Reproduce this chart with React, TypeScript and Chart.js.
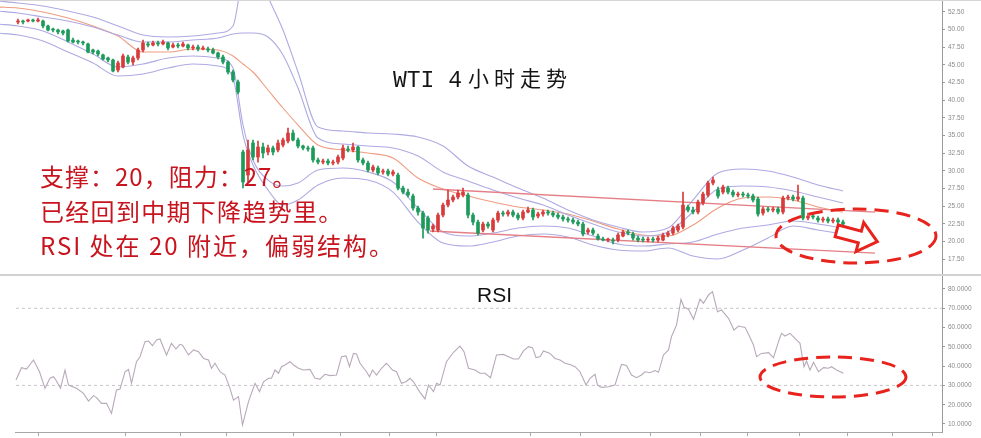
import React, { useEffect, useRef } from "react";
import { Chart, registerables } from "chart.js";

Chart.register(...registerables);

// ---------- Candles (4h WTI) ----------
const OPEN = [
  51.08, 51.22, 51.22, 51.37, 51.22, 51.22, 50.52, 50.09, 49.95, 49.81,
  49.95, 48.53, 48.39, 48.25, 47.97, 47.12, 46.97, 46.41, 45.98, 45.7,
  44.28, 44.71, 46.12, 45.41, 45.98, 47.12, 47.97, 47.82, 48.11, 47.97,
  48.11, 47.54, 47.82, 47.68, 47.82, 47.4, 47.54, 47.26, 47.26, 47.12,
  46.69, 46.12, 45.41, 44.0, 42.58, 32.66, 29.4, 33.94, 31.95, 33.37,
  32.66, 33.23, 32.95, 33.65, 34.22, 35.35, 34.36, 33.51, 33.23, 33.23,
  31.53, 31.24, 31.39, 31.1, 31.24, 31.81, 33.09, 32.95, 33.37, 31.53,
  31.1, 30.11, 30.39, 29.83, 29.97, 29.54, 29.4, 27.56, 26.99, 26.43,
  24.73, 24.02, 23.31, 21.75, 21.61, 23.73, 25.15, 25.86, 26.29, 26.57,
  26.57, 23.73, 22.74, 21.61, 22.46, 21.61, 23.03, 24.02, 23.88, 24.16,
  23.73, 23.31, 24.16, 24.44, 23.59, 23.88, 24.16, 24.02, 23.73, 23.45,
  23.17, 23.03, 22.74, 22.46, 21.33, 21.61, 20.76, 20.33, 20.19, 20.19,
  20.19, 20.76, 21.33, 21.04, 20.47, 20.33, 20.19, 20.33, 20.19, 20.19,
  20.9, 21.18, 21.61, 22.03, 24.87, 24.44, 24.16, 25.44, 26.57, 28.27,
  27.28, 26.99, 27.56, 26.99, 26.57, 26.71, 26.57, 26.43, 26.0, 24.02,
  24.59, 24.44, 24.59, 24.16, 26.14, 26.29, 26.0, 26.14, 23.31, 23.59,
  23.31, 23.03, 23.17, 22.88, 23.03, 22.74,
];
const HIGH = [
  51.51, 51.37, 51.51, 51.51, 51.65, 51.37, 50.66, 50.23, 50.09, 49.95,
  50.09, 48.82, 48.53, 48.39, 48.11, 47.26, 47.12, 46.55, 46.12, 45.84,
  45.56, 46.55, 46.41, 46.27, 47.4, 48.53, 48.25, 48.39, 48.39, 48.53,
  48.25, 48.11, 48.11, 48.25, 47.97, 47.82, 47.82, 47.68, 47.54, 47.4,
  46.83, 46.41, 45.56, 44.28, 42.86, 32.95, 34.36, 34.36, 34.22, 33.94,
  33.65, 33.51, 34.36, 34.65, 36.06, 35.78, 34.65, 33.65, 33.51, 33.51,
  31.81, 31.67, 31.67, 31.53, 32.24, 33.65, 33.51, 33.94, 33.51, 31.81,
  31.39, 30.82, 30.68, 30.25, 30.25, 30.11, 29.69, 27.85, 27.42, 26.71,
  25.01, 24.3, 23.59, 22.46, 24.02, 25.44, 27.28, 26.57, 27.28, 27.56,
  26.85, 24.02, 23.03, 22.74, 22.74, 23.31, 24.3, 24.3, 24.44, 24.44,
  24.02, 24.44, 24.87, 24.73, 24.16, 24.44, 24.44, 24.3, 24.02, 23.73,
  23.45, 23.31, 23.03, 22.74, 21.89, 21.89, 21.04, 20.62, 20.47, 20.47,
  21.18, 21.61, 21.61, 21.33, 20.76, 20.62, 20.62, 20.62, 20.76, 21.18,
  21.47, 22.18, 22.46, 26.99, 25.15, 24.87, 25.86, 26.99, 28.55, 29.12,
  27.7, 27.99, 27.85, 27.28, 26.99, 26.99, 26.85, 26.71, 26.29, 24.87,
  24.87, 24.87, 24.87, 26.43, 26.57, 26.57, 27.99, 26.43, 24.02, 23.88,
  23.59, 23.45, 23.45, 23.31, 23.31, 23.03,
];
const LOW = [
  50.8, 50.8, 51.08, 51.08, 51.08, 50.23, 49.81, 49.67, 49.38, 49.24,
  48.25, 48.11, 47.97, 47.82, 46.69, 46.55, 46.27, 45.7, 45.41, 44.0,
  44.0, 44.56, 45.13, 44.99, 45.7, 46.83, 47.54, 47.68, 47.68, 47.82,
  47.12, 47.4, 47.4, 47.54, 47.12, 47.12, 46.97, 47.12, 46.83, 46.55,
  45.84, 45.13, 43.71, 42.58, 40.88, 27.56, 28.41, 31.53, 31.24, 31.81,
  32.24, 32.24, 32.66, 33.37, 33.94, 34.22, 33.23, 32.95, 32.8, 31.24,
  30.96, 30.96, 30.82, 30.82, 30.96, 31.53, 32.66, 32.66, 31.24, 30.82,
  29.83, 29.83, 29.4, 29.54, 29.26, 29.26, 27.28, 26.71, 26.29, 24.44,
  23.73, 20.47, 21.18, 21.33, 21.33, 23.45, 24.87, 25.58, 26.0, 26.29,
  23.31, 22.32, 20.9, 21.33, 21.89, 21.33, 22.74, 23.59, 23.59, 23.45,
  23.03, 23.03, 24.02, 23.03, 23.31, 23.59, 23.73, 23.45, 23.17, 22.88,
  22.74, 22.46, 22.18, 20.76, 21.04, 20.9, 20.19, 20.05, 19.91, 19.63,
  19.91, 20.62, 20.9, 20.19, 19.91, 19.91, 19.91, 19.91, 19.91, 20.05,
  20.62, 20.9, 21.33, 21.75, 24.16, 23.88, 23.88, 25.15, 26.29, 27.99,
  26.14, 26.71, 26.71, 26.29, 26.29, 26.29, 26.14, 25.58, 23.59, 23.73,
  24.16, 24.16, 23.88, 23.88, 25.86, 25.72, 25.72, 23.03, 23.03, 23.17,
  22.74, 22.74, 22.6, 22.6, 22.46, 22.18,
];
const CLOSE = [
  51.22, 51.08, 51.37, 51.22, 51.37, 50.52, 49.95, 49.95, 49.67, 49.52,
  48.39, 48.25, 48.25, 48.11, 46.83, 46.83, 46.55, 45.84, 45.7, 44.14,
  45.27, 46.27, 45.41, 45.98, 47.12, 48.11, 47.82, 48.11, 47.97, 48.25,
  47.4, 47.82, 47.68, 47.97, 47.4, 47.54, 47.26, 47.4, 47.12, 46.69,
  46.12, 45.41, 44.0, 42.86, 41.16, 28.41, 32.95, 31.95, 33.37, 32.52,
  33.23, 32.66, 33.94, 34.36, 35.35, 34.36, 33.51, 33.23, 33.09, 31.53,
  31.24, 31.39, 31.1, 31.24, 31.95, 33.23, 32.95, 33.37, 31.53, 31.1,
  30.11, 30.54, 29.69, 29.97, 29.54, 29.83, 27.56, 26.99, 26.57, 24.73,
  24.16, 21.89, 21.61, 22.18, 23.73, 25.15, 25.86, 26.29, 26.85, 26.99,
  23.73, 22.74, 21.18, 22.46, 22.18, 23.03, 24.02, 23.88, 24.16, 23.73,
  23.31, 24.16, 24.44, 23.45, 23.88, 24.16, 24.02, 23.73, 23.45, 23.17,
  23.03, 22.74, 22.46, 21.04, 21.61, 21.18, 20.33, 20.19, 20.33, 20.05,
  20.9, 21.33, 21.18, 20.47, 20.19, 20.19, 20.33, 20.19, 20.47, 20.9,
  21.18, 21.89, 22.18, 25.15, 24.44, 24.16, 25.58, 26.71, 28.27, 28.69,
  26.43, 27.7, 26.99, 26.57, 26.71, 26.57, 26.43, 25.86, 23.88, 24.59,
  24.44, 24.59, 24.16, 26.14, 26.29, 26.0, 26.29, 23.31, 23.59, 23.45,
  23.03, 23.17, 22.88, 23.03, 22.74, 22.46,
];

// ---------- Bollinger-style bands (sampled at candle positions) ----------
const BAND_IDX = [-4, 0, 5, 10, 15, 20, 25, 30, 35, 40, 43, 45, 47, 50, 53, 56, 60, 65, 70, 75, 80, 85, 90, 95, 100, 105, 110, 115, 120, 125, 130, 135, 140, 145, 150, 155, 160, 165];
const BB_UP2 = [54.06, 53.78, 53.35, 52.64, 51.79, 50.52, 49.24, 48.96, 49.1, 49.52, 50.52, 57.74, 59.59, 54.63, 49.95, 44.0, 36.2, 35.64, 35.35, 35.21, 34.79, 33.51, 30.68, 29.12, 27.56, 26.14, 24.44, 23.03, 22.03, 21.33, 21.89, 25.86, 29.69, 30.25, 29.97, 29.12, 27.99, 27.14];
const BB_UP1 = [52.64, 52.36, 51.79, 51.22, 50.37, 49.24, 48.25, 48.25, 48.53, 48.82, 49.38, 49.52, 49.52, 48.96, 46.41, 41.73, 34.65, 33.8, 33.51, 33.23, 32.09, 29.83, 28.55, 27.28, 26.14, 25.15, 23.73, 22.46, 21.33, 20.76, 21.33, 24.16, 27.42, 27.84, 27.7, 27.14, 26.29, 25.44];
const BB_MID = [53.21, 53.07, 52.5, 51.65, 50.52, 49.1, 46.83, 46.83, 47.26, 47.12, 46.27, 45.13, 44.0, 41.45, 38.9, 36.49, 33.65, 32.95, 32.52, 31.81, 28.98, 27.42, 26.43, 25.58, 24.87, 24.44, 23.88, 22.88, 21.75, 20.9, 20.76, 22.32, 24.73, 26.14, 26.29, 25.86, 24.87, 24.16];
const BB_LOW1 = [50.8, 50.52, 49.81, 48.25, 46.55, 44.71, 45.13, 45.98, 46.27, 45.98, 44.56, 36.49, 31.53, 28.69, 27.84, 28.27, 30.11, 30.39, 29.83, 28.41, 24.73, 21.33, 20.76, 21.18, 21.89, 22.18, 21.89, 20.76, 19.63, 19.34, 19.63, 19.91, 21.04, 21.89, 22.32, 22.88, 22.46, 21.89];
const BB_LOW2 = [49.52, 49.24, 48.39, 46.83, 45.27, 43.43, 43.71, 44.56, 45.13, 44.85, 43.15, 35.07, 30.82, 27.28, 25.15, 25.86, 27.99, 28.98, 28.69, 26.99, 22.74, 19.77, 19.34, 19.91, 20.76, 21.04, 20.62, 19.48, 18.77, 18.63, 19.06, 17.92, 17.5, 18.77, 20.48, 22.18, 21.61, 21.04];

// ---------- Channel trend lines ----------
const TREND_HIGH_X = [83, 171.4];
const TREND_HIGH = [27.42, 24.16];
const TREND_LOW_X = [82.4, 171.4];
const TREND_LOW = [21.47, 18.35];

// ---------- RSI ----------
const RSI_POS = [
  -0.4, 0.7, 1.7, 3.1, 4.3, 5.4, 6.4, 7.1, 7.7, 8.5,
  9.4, 10.1, 11.7, 13.1, 14.1, 15.1, 15.7, 16.7, 17.7, 18.7,
  19.7, 20.4, 21.4, 22.1, 22.7, 23.7, 24.4, 25.4, 26.1, 26.9,
  27.7, 28.4, 29.7, 30.7, 31.6, 32.4, 32.9, 34.1, 35.1, 36.1,
  37.1, 38.1, 38.7, 39.4, 40.4, 41.4, 42.4, 43.1, 44.1, 44.9,
  46.1, 47.4, 48.3, 49.1, 50.1, 50.7, 51.4, 52.1, 52.7, 53.4,
  54.4, 55.1, 56.1, 57.1, 58.4, 59.4, 60.4, 61.4, 62.4, 63.7,
  64.7, 65.6, 66.3, 67.1, 67.7, 68.4, 69.7, 70.3, 70.9, 71.7,
  72.7, 73.7, 74.9, 75.7, 76.7, 77.6, 78.4, 79.1, 80.3, 81.4,
  82.1, 83.1, 83.7, 84.4, 85.7, 87.1, 88.4, 89.2, 90.1, 91.4,
  92.4, 93.4, 94.5, 95.7, 97.1, 98.1, 99.1, 100.1, 101.1, 102.1,
  102.9, 103.6, 104.4, 105.1, 106.4, 107.4, 108.4, 109.4, 110.4, 111.4,
  112.4, 113.6, 114.4, 115.4, 115.9, 116.7, 118.1, 119.4, 120.7, 121.7,
  122.7, 123.7, 124.7, 125.4, 126.4, 127.4, 128.1, 129.1, 130.1, 130.7,
  131.7, 132.6, 133.2, 134.1, 135.1, 136.4, 137.1, 138.1, 138.9, 139.9,
  140.7, 142.1, 143.2, 144.1, 145.4, 146.1, 147.1, 147.7, 148.7, 150.1,
  151.1, 152.1, 152.7, 153.4, 154.4, 155.4, 156.4, 157.2, 157.7, 158.4,
  159.1, 160.1, 161.1, 162.1, 162.7, 163.7, 165.1,
];
const RSI = [
  32.8, 39.2, 38.5, 43.2, 37.1, 28.5, 33.7, 34.5, 32.3, 28.5,
  38.0, 30.2, 28.5, 25.9, 21.9, 24.7, 23.7, 20.7, 20.7, 15.5,
  27.6, 28.1, 37.1, 38.3, 31.1, 42.3, 44.9, 52.7, 53.0, 50.6,
  53.6, 54.1, 45.8, 51.8, 48.9, 51.3, 50.9, 45.8, 48.4, 47.5,
  44.0, 43.2, 38.9, 41.5, 37.1, 35.4, 28.5, 22.4, 24.2, 9.5,
  21.6, 31.1, 26.8, 31.9, 33.7, 33.7, 38.0, 36.3, 39.7, 40.6,
  42.3, 40.6, 38.9, 38.0, 38.3, 33.7, 33.3, 35.8, 35.1, 35.4,
  44.9, 45.3, 39.7, 46.6, 46.3, 41.5, 37.1, 34.5, 38.0, 35.4,
  38.9, 41.5, 38.0, 37.1, 31.1, 31.9, 33.7, 31.9, 26.8, 23.0,
  30.2, 26.8, 31.1, 30.2, 42.3, 47.2, 50.4, 47.5, 38.9, 38.0,
  36.3, 36.3, 34.0, 45.8, 46.1, 44.9, 43.7, 43.7, 47.9, 50.1,
  49.6, 44.4, 44.9, 47.9, 46.6, 44.0, 43.2, 41.5, 40.9, 39.7,
  37.1, 30.2, 33.7, 35.8, 30.2, 29.0, 29.3, 30.2, 40.9, 40.3,
  35.4, 34.0, 35.4, 37.1, 36.6, 37.7, 36.8, 45.8, 48.4, 55.3,
  61.3, 74.6, 70.5, 69.5, 64.3, 74.8, 72.6, 76.9, 78.6, 68.2,
  69.1, 64.8, 58.7, 60.8, 60.1, 56.5, 51.0, 44.9, 46.6, 47.0,
  44.4, 52.7, 57.0, 55.6, 57.0, 54.4, 51.8, 39.7, 42.7, 38.0,
  42.0, 37.1, 39.2, 38.9, 39.7, 38.0, 36.3,
];
const RSI_LEVELS = [70, 30];

// ---------- Axes ----------
const PRICE_TICKS = [17.5, 20, 22.5, 25, 27.5, 30, 32.5, 35, 37.5, 40, 42.5, 45, 47.5, 50, 52.5];
const RSI_TICKS = [10, 20, 30, 40, 50, 60, 70, 80];
const X_TICKS = [4, 21.4, 32.4, 41.8, 55, 64.4, 74.4, 83.8, 102.4, 112.4, 126.4, 136.4, 145.8, 156.4, 165.8, 175, 183];
const X_MIN = -3.6;
const X_MAX = 184.8;
const PRICE_MIN = 15.38;
const PRICE_MAX = 54.2;
const RSI_MIN = 5.85;
const RSI_MAX = 86.74;

// ---------- Texts ----------
const TITLE_LATIN = "WTI 4";
const TITLE_CJK = "小时走势";
const NOTES = ["支撑：20，阻力：27。", "已经回到中期下降趋势里。", "RSI 处在 20 附近，偏弱结构。"];
const RSI_TITLE = "RSI";

const UP_COLOR = "#d93a3a";
const DOWN_COLOR = "#1b9a5a";
const BAND_COLOR = "#aeaae2";
const MID_COLOR = "#ef9c80";
const TREND_COLOR = "#e47f86";
const NOTE_COLOR = "#c8141e";
const MARK_COLOR = "#e8221c";
const AXIS_COLOR = "#9a9a9a";
const TICK_FONT = { family: "'Liberation Sans', Arial, sans-serif", size: 6.5 };

const bandLine = (vals: number[], color: string) => ({
  type: "line" as const,
  data: BAND_IDX.map((x, k) => ({ x, y: vals[k] })),
  borderColor: color,
  borderWidth: 1.1,
  pointRadius: 0,
  fill: false,
  cubicInterpolationMode: "monotone" as const,
  order: 3,
});

const straight = (xs: number[], ys: number[], color: string) => ({
  type: "line" as const,
  data: xs.map((x, k) => ({ x, y: ys[k] })),
  borderColor: color,
  borderWidth: 1.3,
  pointRadius: 0,
  fill: false,
  order: 2,
});

const topDecor = {
  id: "topDecor",
  afterDraw(chart: any) {
    const ctx = chart.ctx as CanvasRenderingContext2D;
    ctx.save();
    ctx.fillStyle = "#d6d6d6";
    ctx.fillRect(0, 0, 981, 1);

    ctx.textBaseline = "alphabetic";
    ctx.textAlign = "left";
    ctx.fillStyle = "#151515";
    ctx.font = "23px 'Liberation Mono', monospace";
    ctx.fillText(TITLE_LATIN, 393, 87);
    ctx.font = "21px 'Noto Sans CJK SC'";
    (ctx as any).letterSpacing = "5px";
    ctx.fillText(TITLE_CJK, 468, 86);

    ctx.fillStyle = NOTE_COLOR;
    ctx.font = "24px 'Noto Sans CJK SC'";
    const baselines = [186, 221, 255];
    const spacing = ["1px", "1.3px", "2px"];
    NOTES.forEach((t, k) => {
      (ctx as any).letterSpacing = spacing[k];
      ctx.fillText(t, 40, baselines[k]);
    });
    (ctx as any).letterSpacing = "0px";

    // dashed ellipse
    ctx.strokeStyle = MARK_COLOR;
    ctx.lineWidth = 3;
    ctx.setLineDash([14, 8]);
    ctx.beginPath();
    ctx.ellipse(856, 236, 80, 27, 0, 0, Math.PI * 2);
    ctx.stroke();
    ctx.setLineDash([]);

    // hollow arrow
    const pts = [
      [838.2, 225.0], [861.4, 231.2], [863.7, 222.5], [877.3, 241.7],
      [856.0, 251.5], [858.3, 242.8], [835.1, 236.6],
    ];
    ctx.beginPath();
    pts.forEach(([x, y], k) => (k === 0 ? ctx.moveTo(x, y) : ctx.lineTo(x, y)));
    ctx.closePath();
    ctx.fillStyle = "#ffffff";
    ctx.fill();
    ctx.lineJoin = "miter";
    ctx.lineWidth = 3;
    ctx.stroke();
    ctx.restore();
  },
};

const rsiDecor = {
  id: "rsiDecor",
  afterDraw(chart: any) {
    const ctx = chart.ctx as CanvasRenderingContext2D;
    ctx.save();
    ctx.fillStyle = "#111";
    ctx.font = "21px 'Liberation Sans', Arial, sans-serif";
    ctx.textBaseline = "alphabetic";
    ctx.fillText(RSI_TITLE, 477, 26);

    const bottom = chart.chartArea.bottom;
    ctx.fillStyle = "#a8a8a8";
    ctx.fillRect(15, bottom, 942 - 15, 1);

    ctx.strokeStyle = MARK_COLOR;
    ctx.lineWidth = 3;
    ctx.setLineDash([14, 8]);
    ctx.beginPath();
    ctx.ellipse(833, 101, 73, 20, 0, 0, Math.PI * 2);
    ctx.stroke();
    ctx.restore();
  },
};

export default function App() {
  const topRef = useRef<HTMLCanvasElement>(null);
  const rsiRef = useRef<HTMLCanvasElement>(null);

  useEffect(() => {
    const candleColors = OPEN.map((o, i) => (CLOSE[i] >= o ? UP_COLOR : DOWN_COLOR));
    const idx = OPEN.map((_, i) => i);

    const top = new Chart(topRef.current as HTMLCanvasElement, {
      type: "bar",
      data: {
        datasets: [
          {
            type: "bar",
            data: idx.map((i) => ({ x: i, y: [OPEN[i], CLOSE[i]] })),
            backgroundColor: candleColors,
            borderWidth: 0,
            barThickness: 3,
            minBarLength: 1,
            grouped: false,
            order: 0,
          } as any,
          {
            type: "bar",
            data: idx.map((i) => ({ x: i, y: [LOW[i], HIGH[i]] })),
            backgroundColor: candleColors,
            borderWidth: 0,
            barThickness: 1,
            grouped: false,
            order: 1,
          } as any,
          straight(TREND_HIGH_X, TREND_HIGH, TREND_COLOR),
          straight(TREND_LOW_X, TREND_LOW, TREND_COLOR),
          bandLine(BB_UP2, BAND_COLOR),
          bandLine(BB_UP1, BAND_COLOR),
          bandLine(BB_MID, MID_COLOR),
          bandLine(BB_LOW1, BAND_COLOR),
          bandLine(BB_LOW2, BAND_COLOR),
        ] as any,
      },
      options: {
        responsive: false,
        maintainAspectRatio: false,
        animation: false,
        events: [],
        layout: { padding: 0 },
        plugins: { legend: { display: false }, tooltip: { enabled: false } },
        scales: {
          x: { type: "linear", min: X_MIN, max: X_MAX, display: false, offset: false },
          y: {
            type: "linear",
            position: "right",
            min: PRICE_MIN,
            max: PRICE_MAX,
            afterBuildTicks: (s: any) => {
              s.ticks = PRICE_TICKS.map((v) => ({ value: v }));
            },
            afterFit: (s: any) => {
              s.width = 39;
              s.paddingTop = 0;
              s.paddingBottom = 0;
            },
            ticks: {
              autoSkip: false,
              padding: 3,
              color: "#8a8a8a",
              font: TICK_FONT,
              callback: (v: any) => Number(v).toFixed(2),
            },
            grid: { drawOnChartArea: false, drawTicks: true, tickLength: 3, color: AXIS_COLOR },
            border: { display: true, color: AXIS_COLOR, width: 1 },
          },
        },
      } as any,
      plugins: [topDecor],
    });

    const rsi = new Chart(rsiRef.current as HTMLCanvasElement, {
      type: "line",
      data: {
        datasets: [
          {
            data: RSI_POS.map((x, k) => ({ x, y: RSI[k] })),
            borderColor: "#b7a9b9",
            borderWidth: 1.1,
            pointRadius: 0,
            fill: false,
            tension: 0,
            order: 0,
          },
          ...RSI_LEVELS.map((lv) => ({
            data: [
              { x: RSI_POS[0], y: lv },
              { x: X_MAX, y: lv },
            ],
            borderColor: "#c6c6c6",
            borderWidth: 1,
            borderDash: [3, 3],
            pointRadius: 0,
            fill: false,
            order: 1,
          })),
        ] as any,
      },
      options: {
        responsive: false,
        maintainAspectRatio: false,
        animation: false,
        events: [],
        layout: { padding: 0 },
        plugins: { legend: { display: false }, tooltip: { enabled: false } },
        scales: {
          x: {
            type: "linear",
            min: X_MIN,
            max: X_MAX,
            offset: false,
            afterBuildTicks: (s: any) => {
              s.ticks = X_TICKS.map((v) => ({ value: v }));
            },
            afterFit: (s: any) => {
              s.height = 6;
              s.paddingLeft = 0;
              s.paddingRight = 0;
            },
            ticks: { display: false },
            grid: { drawOnChartArea: false, drawTicks: true, tickLength: 4, color: "#a8a8a8" },
            border: { display: false },
          },
          y: {
            type: "linear",
            position: "right",
            min: RSI_MIN,
            max: RSI_MAX,
            afterBuildTicks: (s: any) => {
              s.ticks = RSI_TICKS.map((v) => ({ value: v }));
            },
            afterFit: (s: any) => {
              s.width = 39;
              s.paddingTop = 0;
              s.paddingBottom = 0;
            },
            ticks: {
              autoSkip: false,
              padding: 3,
              color: "#8a8a8a",
              font: TICK_FONT,
              callback: (v: any) => Number(v).toFixed(4),
            },
            grid: { drawOnChartArea: false, drawTicks: true, tickLength: 3, color: AXIS_COLOR },
            border: { display: true, color: AXIS_COLOR, width: 1 },
          },
        },
      } as any,
      plugins: [rsiDecor],
    });

    return () => {
      top.destroy();
      rsi.destroy();
    };
  }, []);

  return (
    <div
      style={{
        position: "absolute",
        left: 0,
        top: 0,
        width: 981,
        height: 438,
        background: "#ffffff",
        overflow: "hidden",
      }}
    >
      <canvas ref={topRef} width={981} height={274} style={{ position: "absolute", left: 0, top: 0, display: "block" }} />
      <div style={{ position: "absolute", left: 0, top: 274, width: 981, height: 2, background: "#d2d2d2" }} />
      <canvas ref={rsiRef} width={981} height={162} style={{ position: "absolute", left: 0, top: 276, display: "block" }} />
    </div>
  );
}
